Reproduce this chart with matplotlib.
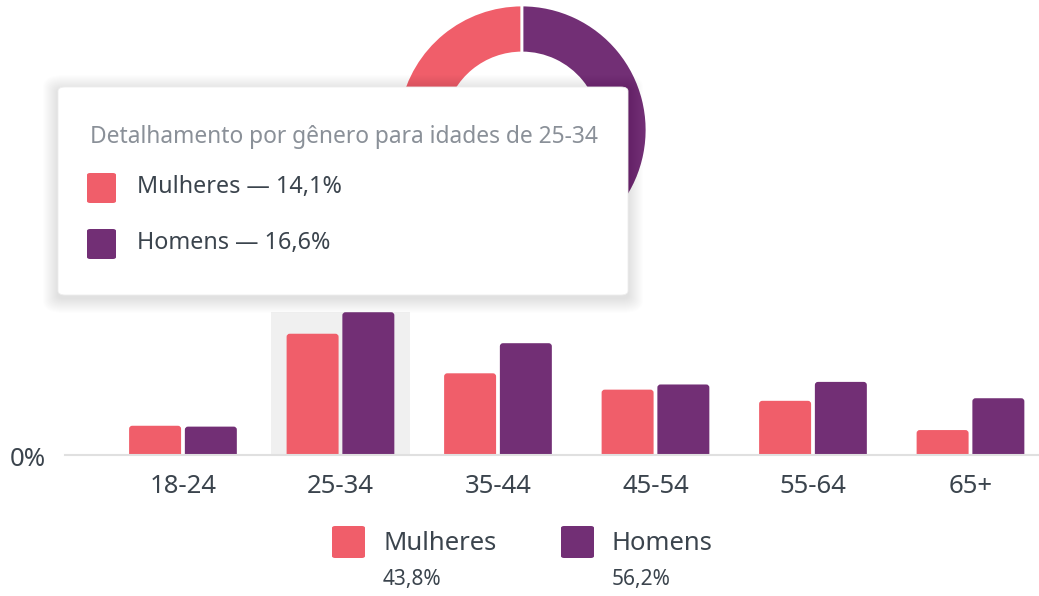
import numpy as np
import matplotlib.pyplot as plt
from matplotlib.patches import FancyBboxPatch

# dados
faixas = ["18-24", "25-34", "35-44", "45-54", "55-64", "65+"]
mulheres = [3.4, 14.1, 9.5, 7.6, 6.3, 2.9]
homens = [3.3, 16.6, 13.0, 8.2, 8.5, 6.6]
total_genero = [43.8, 56.2]
generos = ["Mulheres", "Homens"]
faixa_destaque = "25-34"

c_mul = "#F05E6A"
c_hom = "#722F75"
c_txt = "#3B444D"
c_cinza = "#8A9098"

plt.rcParams['font.family'] = ['Noto Sans', 'DejaVu Sans']

W, H = 1039, 596
fig = plt.figure(figsize=(W / 100, H / 100), dpi=100)

def px(x0, y0, w, h):
    # caixa em pixels (topo-esquerda) -> fração da figura
    return [x0 / W, 1 - (y0 + h) / H, w / W, h / H]

# --- barras ---
ax = fig.add_axes(px(65, 300, W - 65, 155))
x = np.arange(len(faixas))
bw = 0.33
i_d = faixas.index(faixa_destaque)
ax.bar(x[i_d], max(mulheres[i_d], homens[i_d]), width=0.88, color="#F0F0F0", zorder=0)
barras = list(ax.bar(x - bw / 2 - 0.012, mulheres, width=bw, color=c_mul, zorder=2))
barras += list(ax.bar(x + bw / 2 + 0.012, homens, width=bw, color=c_hom, zorder=2))
# cantos arredondados no topo
for b in barras:
    b.set_visible(False)
    p = FancyBboxPatch((b.get_x(), -1), b.get_width(), b.get_height() + 1,
                       boxstyle="round,pad=0,rounding_size=0.02", mutation_aspect=18,
                       facecolor=b.get_facecolor(), edgecolor="none", zorder=2)
    ax.add_patch(p)
ax.set_xlim(-0.749, 5.435)
ax.set_ylim(0, 155 / 8.6)
for s in ["top", "right", "left"]:
    ax.spines[s].set_visible(False)
ax.spines["bottom"].set_color("#E0E0E0")
ax.spines["bottom"].set_linewidth(1.5)
ax.spines["bottom"].set_zorder(3)
ax.set_xticks(x)
ax.set_xticklabels(faixas, fontsize=18.5, color=c_txt)
ax.tick_params(axis="x", length=0, pad=14)
ax.set_yticks([])
fig.text(10 / W, 1 - 459 / H, "0%", fontsize=18.5, color=c_txt, va="center", ha="left")

# --- rosca ---
axd = fig.add_axes(px(397, 5, 250, 250))
axd.pie(total_genero, colors=[c_mul, c_hom], startangle=90, counterclock=True,
        radius=1, wedgeprops=dict(width=0.384, edgecolor="white", linewidth=2))
axd.set_xlim(-1, 1)
axd.set_ylim(-1, 1)
axd.axis("off")

# --- tooltip ---
tx, ty, tw, th = 58, 87, 570, 208
for d in range(1, 16):
    sh = FancyBboxPatch(((tx - d) / W, 1 - (ty + th + d + 3) / H), (tw + 2 * d) / W, (th + 2 * d) / H,
                        boxstyle=f"round,pad=0,rounding_size={(6 + d) / W:.4f}", transform=fig.transFigure,
                        facecolor="black", edgecolor="none", alpha=0.006, zorder=8)
    fig.patches.append(sh)
box = FancyBboxPatch((tx / W, 1 - (ty + th) / H), tw / W, th / H,
                     boxstyle="round,pad=0,rounding_size=0.007", transform=fig.transFigure,
                     facecolor="white", edgecolor="#EEEEEE", linewidth=0.6, zorder=9)
fig.patches.append(box)
fig.text(90 / W, 1 - 137 / H, "Detalhamento por gênero para idades de " + faixa_destaque,
         fontsize=16.4, color=c_cinza, va="center", ha="left", zorder=10)
vals_d = [mulheres[i_d], homens[i_d]]
for j, (g, v, c) in enumerate(zip(generos, vals_d, [c_mul, c_hom])):
    yc = 188 + 56 * j
    sq = FancyBboxPatch((87 / W, 1 - (yc + 15) / H), 29 / W, 30 / H,
                        boxstyle="round,pad=0,rounding_size=0.003", transform=fig.transFigure,
                        facecolor=c, edgecolor="none", zorder=10)
    fig.patches.append(sq)
    fig.text(137 / W, 1 - (yc - 1) / H, f"{g} — {v:.1f}%".replace(".", ","),
             fontsize=16.8, color=c_txt, va="center", ha="left", zorder=10)

# --- legenda ---
for j, (g, v, c) in enumerate(zip(generos, total_genero, [c_mul, c_hom])):
    x0 = 332 + 229 * j
    sq = FancyBboxPatch((x0 / W, 1 - 558 / H), 33 / W, 32 / H,
                        boxstyle="round,pad=0,rounding_size=0.003", transform=fig.transFigure,
                        facecolor=c, edgecolor="none", zorder=10)
    fig.patches.append(sq)
    fig.text((x0 + 51) / W, 1 - 543 / H, g, fontsize=18.5, color=c_txt, va="center", ha="left")
    fig.text((x0 + 51) / W, 1 - 579 / H, f"{v:.1f}%".replace(".", ","),
             fontsize=15, color=c_txt, va="center", ha="left")

fig.savefig("out.png", dpi=100)
